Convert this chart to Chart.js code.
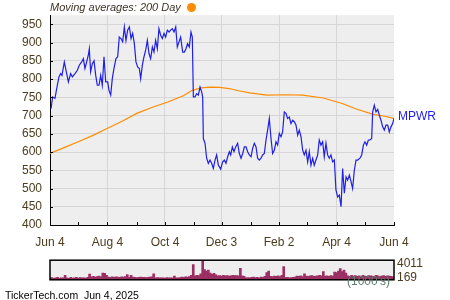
<!DOCTYPE html>
<html><head><meta charset="utf-8">
<script src="https://cdn.jsdelivr.net/npm/chart.js@4.4.1/dist/chart.umd.min.js"></script>
<style>
html,body{margin:0;padding:0;background:#fff;width:450px;height:300px;overflow:hidden;font-family:"Liberation Sans",Arial,sans-serif;}
#wrap{position:relative;width:450px;height:300px;}
canvas{position:absolute;left:0;}
#c1{top:0}
#c2{top:250px}
#legend{position:absolute;left:50px;top:0px;font-style:italic;font-size:11px;color:#3d3426;line-height:15px;white-space:nowrap}
#legend .dot{display:inline-block;width:9px;height:9px;border-radius:50%;background:#ff8c00;margin-left:6px;vertical-align:-1px}
#units{position:absolute;left:347px;top:274px;font-size:12px;line-height:14px;color:#5b7d6b;white-space:nowrap}
#credit{position:absolute;left:5px;top:289px;font-size:10.5px;line-height:12px;color:#000;white-space:nowrap}
</style></head>
<body><div id="wrap">
<canvas id="c1" width="450" height="250"></canvas>
<canvas id="c2" width="450" height="40"></canvas>
<div id="legend">Moving averages: 200 Day<span class="dot"></span></div>
<div id="units">(1000's)</div>
<div id="credit">TickerTech.com&nbsp; Jun 4, 2025</div>
</div>
<script>
// ---- data (days since Jun 4, 2024) ----
const monthDays=[0,30,61,92,122,153,182,213,243,273,304,334,365];
const monthLabels=['Jun 4','','Aug 4','','Oct 4','','Dec 3','','Feb 2','','Apr 4','','Jun 4'];
const seriesName='MPWR';
const priceDays=[1.1,2.8,5.3,7.1,9.5,11.3,12.7,15.2,17,19.5,21.9,23.7,26.5,29,31.1,33.6,35.4,37.1,38.9,40.7,41.7,43.1,44.9,46.7,48.5,50.2,52,53.8,55.5,57.3,59.1,61.2,62.6,64.4,66.1,67.9,70,71.8,73.5,75.3,77.1,78.9,80.6,82.4,84.2,86,87.7,89.5,91.2,93,94.8,96.2,98,99.7,101.5,103.3,105,106.8,108.6,110.3,112.1,113.9,115.6,117.4,119.2,121,122.7,124.5,126.3,128,129.8,131.6,133.4,135.1,136.9,138.6,140.8,142.5,144.3,146,147.8,149.6,151,152.1,153.8,155.6,157.4,159.2,160.9,162,162.7,164.5,166.2,168,169.8,171.5,173.3,175.1,176.8,178.6,181.1,183.2,185,186.7,188.5,190.3,191.7,193.5,195.2,197,199.1,200.9,202.7,204.5,206.2,208,209.7,211.5,213.3,215,216.8,218.6,220.3,222.1,223.9,225.6,227.4,229.2,230.9,232.7,234.5,236.2,238,239.8,241.5,243.3,245.1,246.8,248.6,250.4,252.1,253.9,255.7,257.5,259.2,261,262.8,264.5,266.3,268.1,269.8,271.6,273.4,275.1,276.9,278.7,280.4,282.2,284,285.7,287.5,289.3,291,292.8,294.6,296.4,298.1,299.9,301.7,303.4,305.2,307,308.8,310.5,312.3,314.1,315.8,317.6,319.4,321.1,322.9,324.7,326.4,328.9,330.7,332.5,334.2,336,337.8,339.5,341.3,342.4,344.1,345.9,347.7,349.4,351.2,353,354.7,356.5,358.3,360,361.8,363.6,365];
const priceValues=[719,751,747,774,806,815,810,847,824,792,815,806,815,824,838,847,856,829,847,866,883,820,842,850,810,783,783,810,783,861,792,792,769,756,801,829,856,861,915,911,902,943,906,934,943,911,925,897,847,833,829,801,838,861,879,906,870,856,888,874,906,883,938,920,911,925,915,934,929,934,938,929,943,888,902,915,874,874,883,897,888,929,915,751,751,760,756,778,765,751,637,624,583,569,578,569,555,578,592,564,553,573,578,569,587,601,592,614,601,614,624,596,583,596,614,614,601,592,587,610,624,614,583,578,583,592,596,633,660,692,637,596,605,628,619,651,642,655,710,706,692,696,678,687,683,674,646,660,642,605,592,605,573,601,564,583,564,578,592,633,619,628,587,624,592,583,592,573,578,496,477,482,450,555,487,532,523,537,519,500,550,578,578,583,592,619,628,619,633,633,637,710,728,710,717,701,687,669,660,674,674,655,669,678,692];
const maDays=[0,15,30,45,61,77,92,108,125,142,150,160,170,180,190,200,212,230,250,268,290,310,325,343,355,365];
const maValues=[596,612,628,645,665,685,706,722,737,755,768,776,778,777,774,768,762,756,757,756,748,733,718,703,698,692];
// volume (thousands), one bar per 2 days
const volumeValues=[350,450,300,400,500,350,400,380,900,420,300,480,350,400,500,330,450,380,420,350,500,1150,600,700,550,650,750,600,1400,1300,900,550,500,600,480,620,550,500,600,550,650,1050,500,900,550,500,450,500,550,480,520,450,500,550,600,1240,400,450,380,420,400,350,450,400,380,420,750,400,420,450,550,500,600,550,650,900,3100,800,900,850,1200,4011,2100,1800,2000,1400,1100,1300,1000,800,850,750,900,800,850,750,800,900,850,850,800,2340,800,700,400,450,400,500,550,450,500,400,550,500,700,1500,1800,700,650,750,700,800,650,900,2700,450,500,400,450,500,550,750,700,800,650,1200,750,700,800,850,700,750,800,900,800,1700,750,800,700,850,750,1600,1500,1800,2300,1700,2000,1400,800,700,900,750,850,700,800,650,900,750,700,850,800,750,700,900,800,650,750,850,700,800,750,700,600];
const volMax=4011;
const volAxisLabels=['4011','169'];
const volAxisLabelAt=[3200,460];

const FONT='"Liberation Sans", Arial, sans-serif';
const TICKCOL='#4b3c1e';

const bgPlugin={id:'bg',beforeDraw(c){const a=c.chartArea,x=c.ctx;x.save();x.fillStyle='#eeeeee';x.fillRect(a.left,a.top,a.right-a.left,a.bottom-a.top);x.restore();}};
const innerTicks={id:'innerTicks',afterDraw(c){
  const a=c.chartArea,x=c.ctx;x.save();x.strokeStyle='#000';x.lineWidth=1;x.beginPath();
  c.scales.y.ticks.forEach(t=>{const p=Math.round(c.scales.y.getPixelForValue(t.value))+0.5;x.moveTo(a.left,p);x.lineTo(a.left+3,p);});
  c.scales.x.ticks.forEach(t=>{const p=Math.round(c.scales.x.getPixelForValue(t.value))+0.5;x.moveTo(p,a.bottom);x.lineTo(p,a.bottom-3);});
  x.stroke();
  const yy=c.scales.y.getPixelForValue(priceValues[priceValues.length-1]);
  x.fillStyle='#1f1fe6';x.font='12px '+FONT;x.textBaseline='middle';x.textAlign='left';
  x.fillText(seriesName,a.right+4,yy-2);
  x.restore();}};

new Chart(document.getElementById('c1'),{
  type:'line',
  data:{datasets:[
    {data:maDays.map((d,i)=>({x:d,y:maValues[i]})),borderColor:'#ff8c00',borderWidth:1.2,pointRadius:0,tension:0,order:2},
    {data:priceDays.map((d,i)=>({x:d,y:priceValues[i]})),borderColor:'#1f1fe6',borderWidth:1.2,pointRadius:0,tension:0,order:1}
  ]},
  options:{animation:false,responsive:false,devicePixelRatio:1,
    layout:{padding:{left:0,right:56,top:15,bottom:0}},
    plugins:{legend:{display:false},tooltip:{enabled:false}},
    scales:{
      x:{type:'linear',min:0,max:365,
        afterBuildTicks:s=>{s.ticks=monthDays.map(v=>({value:v}));},
        afterFit:s=>{s.height=25;},
        ticks:{autoSkip:false,maxRotation:0,padding:10,color:TICKCOL,font:{size:12,family:FONT},callback:(v,i)=>monthLabels[i]},
        grid:{drawTicks:false,color:ctx=>{const i=monthDays.indexOf(ctx.tick&&ctx.tick.value);return (i>0&&i<monthDays.length-1&&monthLabels[i])?'#d6d6d6':'rgba(0,0,0,0)';}},
        border:{color:'#000',width:1}},
      y:{type:'linear',min:400,max:975,
        afterBuildTicks:s=>{const t=[];for(let v=400;v<=950;v+=25)t.push({value:v});s.ticks=t;},
        afterFit:s=>{s.width=50;},
        ticks:{padding:8,color:TICKCOL,font:{size:12,family:FONT},callback:v=>(v%50===0?String(v):'')},
        grid:{drawTicks:false,color:ctx=>(ctx.tick&&ctx.tick.value%50===0&&ctx.tick.value>400)?'#d6d6d6':'rgba(0,0,0,0)'},
        border:{color:'#000',width:1}}
    }},
  plugins:[bgPlugin,innerTicks]
});

const boxPlugin={id:'box',afterDraw(c){const a=c.chartArea,x=c.ctx;x.save();x.strokeStyle='#000';x.lineWidth=1.5;x.strokeRect(a.left,a.top,a.right-a.left,a.bottom-a.top);x.restore();}};
new Chart(document.getElementById('c2'),{
  type:'bar',
  data:{datasets:[{data:volumeValues.map((v,i)=>({x:i*2,y:v})),backgroundColor:'#9b2f63',borderWidth:0,barThickness:2}]},
  options:{animation:false,responsive:false,devicePixelRatio:1,
    layout:{padding:{left:50,right:0,top:6,bottom:5}},
    plugins:{legend:{display:false},tooltip:{enabled:false}},
    scales:{
      x:{type:'linear',min:0,max:365,display:false,offset:false,grid:{offset:false}},
      y:{position:'right',min:0,max:volMax,
        afterBuildTicks:s=>{s.ticks=volAxisLabelAt.map(v=>({value:v}));},
        afterFit:s=>{s.width=56;},
        ticks:{padding:3,color:TICKCOL,font:{size:12,family:FONT},callback:(v,i)=>volAxisLabels[i]},
        grid:{display:false,drawTicks:false},border:{display:false}}
    }},
  plugins:[bgPlugin,boxPlugin]
});
</script>
</body></html>
